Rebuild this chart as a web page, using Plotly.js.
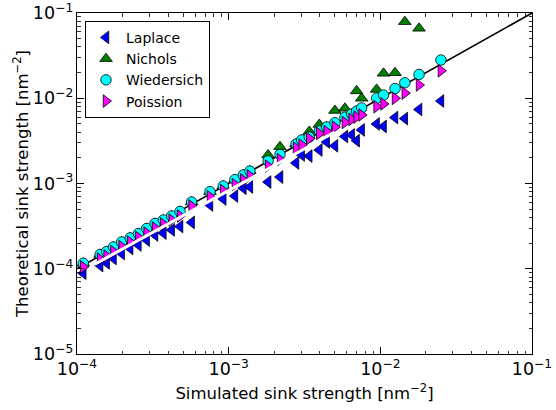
<!DOCTYPE html>
<html>
<head>
<meta charset="utf-8">
<script src="https://cdn.plot.ly/plotly-3.0.1.min.js"></script>
<style>html,body{margin:0;padding:0;background:#fff;}#chart{width:556px;height:410px;}</style>
</head>
<body>
<div id="chart"></div>
<script>
// Simulated sink strength (x) and theoretical predictions
var simulated = [1.10e-4, 1.42e-4, 1.57e-4, 1.74e-4, 1.97e-4, 2.24e-4, 2.54e-4, 2.88e-4, 3.27e-4, 3.71e-4, 4.21e-4, 4.78e-4, 5.70e-4, 7.53e-4, 9.21e-4, 1.10e-3, 1.25e-3, 1.38e-3, 1.82e-3, 2.18e-3, 2.78e-3, 3.03e-3, 3.40e-3, 3.96e-3, 4.43e-3, 5.02e-3, 5.84e-3, 6.47e-3, 6.98e-3, 7.53e-3, 9.45e-3, 1.05e-2, 1.25e-2, 1.45e-2, 1.80e-2, 2.51e-2];
var laplace = [8.85e-5, 1.09e-4, 1.17e-4, 1.32e-4, 1.51e-4, 1.73e-4, 1.90e-4, 2.17e-4, 2.49e-4, 2.62e-4, 2.85e-4, 3.13e-4, 3.49e-4, 5.60e-4, 6.58e-4, 7.13e-4, 8.79e-4, 9.10e-4, 1.04e-3, 1.19e-3, 1.74e-3, 2.16e-3, 2.10e-3, 2.47e-3, 3.07e-3, 2.77e-3, 3.56e-3, 3.71e-3, 3.18e-3, 4.25e-3, 4.99e-3, 4.67e-3, 5.94e-3, 5.78e-3, 7.38e-3, 9.29e-3];
var nichols = [1.16e-4, 1.47e-4, 1.59e-4, 1.80e-4, 2.06e-4, 2.30e-4, 2.59e-4, 2.97e-4, 3.40e-4, 3.73e-4, 4.16e-4, 4.70e-4, 6.07e-4, 8.02e-4, 9.35e-4, 1.11e-3, 1.26e-3, 1.40e-3, 2.16e-3, 2.70e-3, 2.90e-3, 3.24e-3, 4.07e-3, 4.92e-3, 4.60e-3, 7.18e-3, 7.62e-3, 6.53e-3, 1.22e-2, 9.99e-3, 1.27e-2, 1.96e-2, 1.99e-2, 7.91e-2, 6.61e-2, null];
var wiedersich = [1.16e-4, 1.47e-4, 1.59e-4, 1.80e-4, 2.06e-4, 2.30e-4, 2.59e-4, 2.97e-4, 3.40e-4, 3.73e-4, 4.16e-4, 4.70e-4, 6.07e-4, 8.02e-4, 9.35e-4, 1.11e-3, 1.26e-3, 1.40e-3, 1.84e-3, 2.19e-3, 2.90e-3, 3.24e-3, 3.51e-3, 4.13e-3, 4.60e-3, 5.16e-3, 5.98e-3, 6.53e-3, 7.08e-3, 7.69e-3, 9.99e-3, 1.09e-2, 1.30e-2, 1.52e-2, 1.90e-2, 2.81e-2];
var poission = [1.05e-4, 1.30e-4, 1.41e-4, 1.59e-4, 1.82e-4, 2.06e-4, 2.33e-4, 2.62e-4, 3.01e-4, 3.35e-4, 3.73e-4, 4.16e-4, 5.45e-4, 7.00e-4, 8.28e-4, 9.73e-4, 1.10e-3, 1.23e-3, 1.60e-3, 1.91e-3, 2.61e-3, 2.83e-3, 3.37e-3, 3.86e-3, 4.07e-3, 4.60e-3, 5.20e-3, 5.64e-3, 6.03e-3, 6.37e-3, 7.96e-3, 8.57e-3, 9.99e-3, 1.15e-2, 1.43e-2, 2.10e-2];
// Reference lines
var identityX = [1e-4, 1e-1];
var identityY = [1e-4, 1e-1];
var gapX = [1.3e-4, 5.0e-3];
var gapY = [1.12e-4, 4.0e-3];

var FONT = 'DejaVu Sans, Liberation Sans, sans-serif';
var edge = {color: '#000', width: 0.8};

var traces = [
  {x: identityX, y: identityY, mode: 'lines', line: {color: '#000', width: 1.6}, showlegend: false, hoverinfo: 'skip'},
  {x: simulated, y: laplace, name: 'Laplace', mode: 'markers', marker: {symbol: 'triangle-left', size: 11, color: '#0000ff', line: edge}},
  {x: simulated, y: nichols, name: 'Nichols', mode: 'markers', marker: {symbol: 'triangle-up', size: 11, color: '#007f00', line: edge}},
  {x: simulated, y: wiedersich, name: 'Wiedersich', mode: 'markers', marker: {symbol: 'circle', size: 10.5, color: '#00ffff', line: edge}},
  {x: simulated, y: poission, name: 'Poission', mode: 'markers', marker: {symbol: 'triangle-right', size: 11, color: '#ff00ff', line: edge}},
  {x: gapX, y: gapY, mode: 'lines', line: {color: '#fff', width: 3}, showlegend: false, hoverinfo: 'skip'}
];

var axisCommon = {
  type: 'log',
  dtick: 1,
  exponentformat: 'power',
  showexponent: 'all',
  showgrid: false,
  zeroline: false,
  showline: true,
  linecolor: '#000',
  linewidth: 1,
  mirror: 'allticks',
  ticks: 'inside',
  ticklen: 7,
  tickwidth: 1,
  tickcolor: '#000',
  tickfont: {family: FONT, size: 14, color: '#000'},
  minor: {ticks: 'inside', ticklen: 3.5, tickwidth: 0.8, tickcolor: '#000', dtick: 'D1', showgrid: false}
};

var layout = {
  width: 556, height: 410,
  margin: {l: 77, r: 24, t: 13, b: 56},
  paper_bgcolor: '#fff', plot_bgcolor: '#fff',
  font: {family: FONT, color: '#000'},
  xaxis: Object.assign({}, axisCommon, {
    range: [-4, -1],
    title: {text: 'Simulated sink strength [nm<sup>\u22122</sup>]', font: {family: FONT, size: 16.5, color: '#000'}, standoff: 9}
  }),
  yaxis: Object.assign({}, axisCommon, {
    range: [-5, -1],
    title: {text: 'Theoretical sink strength [nm<sup>\u22122</sup>]', font: {family: FONT, size: 16.5, color: '#000'}, standoff: 0}
  }),
  showlegend: true,
  legend: {
    x: 0.0176, y: 0.977, xanchor: 'left', yanchor: 'top',
    bgcolor: '#fff', bordercolor: '#000', borderwidth: 1,
    font: {family: FONT, size: 14, color: '#000'},
    tracegroupgap: 0
  }
};

Plotly.newPlot('chart', traces, layout, {displayModeBar: false, staticPlot: true});
</script>
</body>
</html>
